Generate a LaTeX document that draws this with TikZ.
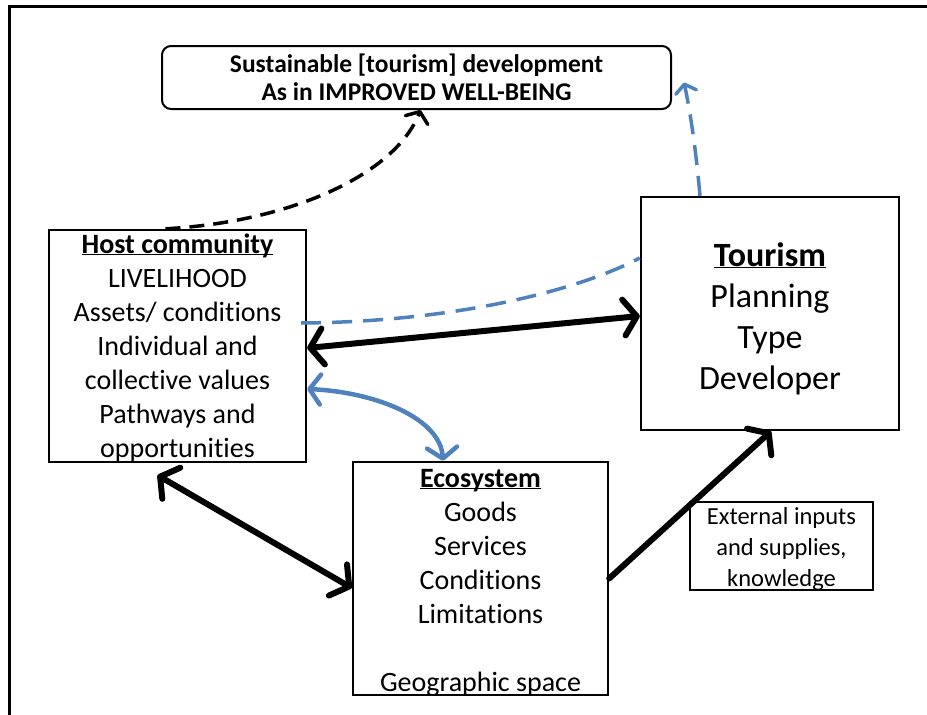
\documentclass[tikz,border=0pt]{standalone}
\usepackage{fontspec}
\setmainfont[Ligatures={NoCommon}]{Carlito}
\usetikzlibrary{arrows.meta}
\definecolor{wblue}{RGB}{79,129,189}
\newcommand\ulbox[1]{\underline{\smash{#1}\vphantom{H}}}
\begin{document}
\begin{tikzpicture}[x=1pt,y=-1pt,
  box/.style={draw, line width=2.4pt, inner sep=0pt},
  txt/.style={anchor=north, align=center, inner sep=0pt},
  dbl/.style={line width=6pt, line cap=round,
    arrows={Straight Barb[length=13pt,width=36pt,round]-Straight Barb[length=13pt,width=36pt,round]}},
  sgl/.style={line width=6pt, line cap=round,
    arrows={-Straight Barb[length=13pt,width=36pt,round]}},
  bdbl/.style={wblue, line width=4.5pt, line cap=round,
    arrows={Straight Barb[length=11pt,width=30pt,round]-Straight Barb[length=11pt,width=30pt,round]}},
  bdash/.style={wblue, line width=3.5pt, dash pattern=on 20pt off 11pt},
  kdash/.style={black, line width=3.5pt, dash pattern=on 15pt off 9pt},
]
\useasboundingbox (0,0) rectangle (927,715);
\draw[line width=3pt] (9,730) -- (9,6) -- (940,6);

\node[box, rounded corners=9pt, line width=2pt, minimum width=509pt, minimum height=63pt,
  font=\bfseries\fontsize{25.5}{28.5}\selectfont, align=center] (s) at (416.5,77.5)
  {Sustainable [tourism] development\\As in IMPROVED WELL-BEING};

\node[box, minimum width=257pt, minimum height=232pt] (h) at (177.5,346) {};
\node[txt, font=\fontsize{28}{34}\selectfont] (ht) at ([yshift=-6pt]h.north)
  {\textbf{\ulbox{Host community}}\\LIVELIHOOD\\Assets/ conditions\\Individual and\\collective values\\Pathways and\\opportunities};

\node[box, minimum width=258pt, minimum height=233pt] (t) at (770,313.5) {};
\node[txt, font=\fontsize{34}{41}\selectfont] (tt) at ([yshift=-48pt]t.north)
  {\textbf{\ulbox{Tourism}}\\Planning\\Type\\Developer};

\node[box, minimum width=255pt, minimum height=233pt] (e) at (480.5,578.5) {};
\node[txt, font=\fontsize{28}{34}\selectfont] (et) at ([yshift=-8pt]e.north)
  {\textbf{\ulbox{Ecosystem}}\\Goods\\Services\\Conditions\\Limitations\\[34pt]Geographic space};

\node[box, line width=2pt, minimum width=183pt, minimum height=88pt] (x) at (781.5,546) {};
\node[txt, font=\fontsize{24.5}{31}\selectfont] (xt) at ([yshift=-6pt]x.north)
  {External inputs\\and supplies,\\knowledge};

% connectors
\draw[dbl] ([yshift=-2pt]h.east) -- ([yshift=-2.5pt]t.west);
\draw[dbl] ([xshift=-20pt,yshift=-12pt]h.south) -- ([yshift=-9.5pt]e.west);
\draw[sgl] (e.east) -- ([xshift=1pt]t.south);
\draw[bdbl] ([yshift=-43pt]h.east) .. controls (375,392) and (440,418) .. ([xshift=-37.5pt]e.north);
\draw[kdash, arrows={-Straight Barb[length=9pt,width=24pt,round]}] ([xshift=-12pt]h.north)
  .. controls (290,222) and (395,175) .. ([xshift=4pt]s.south);
\draw[bdash, arrows={-Straight Barb[length=8pt,width=21pt,round]}] ([xshift=-70pt]t.north)
  .. controls (696,150) and (690,110) .. ([xshift=12pt,yshift=-5pt]s.east);
\draw[bdash] ([xshift=-6pt,yshift=23pt]h.east)
  .. controls (450,322) and (575,292) .. ([yshift=55.5pt]t.west);
\end{tikzpicture}
\end{document}
